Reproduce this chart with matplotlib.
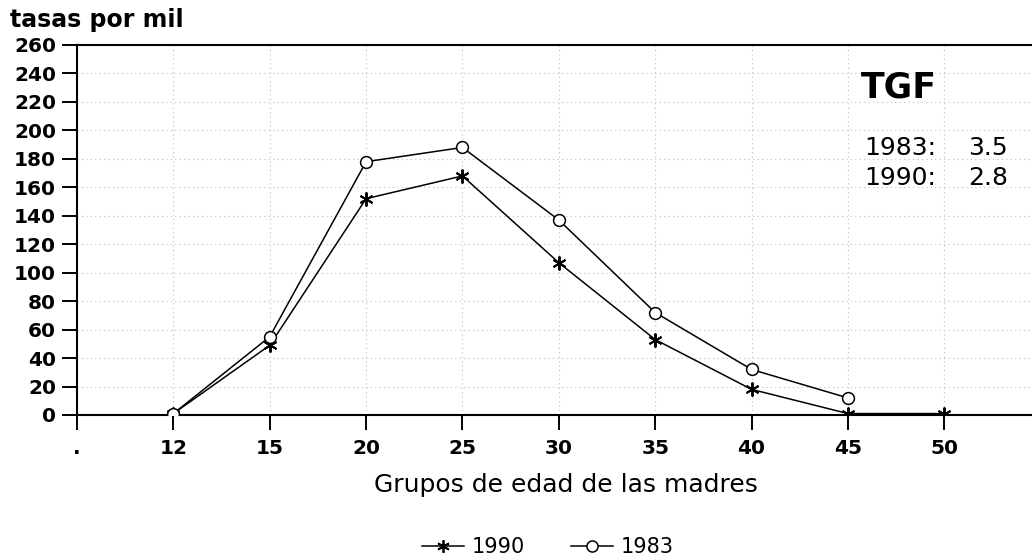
import matplotlib
matplotlib.use("Agg")
import matplotlib.pyplot as plt
from matplotlib.lines import Line2D

tick_labels = ['.', '12', '15', '20', '25', '30', '35', '40', '45', '50']
ages_1990 = ['12', '15', '20', '25', '30', '35', '40', '45', '50']
vals_1990 = [1, 49, 152, 168, 107, 53, 18, 1, 1]
ages_1983 = ['12', '15', '20', '25', '30', '35', '40', '45']
vals_1983 = [1, 55, 178, 188, 137, 72, 32, 12]
yticks = list(range(0, 261, 20))
tgf_years = ['1983:', '1990:']
tgf_values = ['3.5', '2.8']

plt.rcParams['font.family'] = ['DejaVu Sans']

fig = plt.figure(figsize=(10.32, 5.6), dpi=100)
ax = fig.add_axes([77/1032, 1 - 415/560, 1 - 77/1032, (415 - 45)/560])

pos = {lab: i for i, lab in enumerate(tick_labels)}
x90 = [pos[a] for a in ages_1990]
x83 = [pos[a] for a in ages_1983]

asterisk = (6, 2, 0)
ax.plot(x90, vals_1990, color='black', lw=1.1, marker=asterisk, ms=10,
        mew=1.4, label='1990', zorder=3)
ax.plot(x83, vals_1983, color='black', lw=1.1, marker='o', ms=8.5,
        mfc='white', mew=1.1, label='1983', zorder=3)

ax.set_xlim(0, 9.91)
ax.set_ylim(0, 260)
ax.set_yticks(yticks)
ax.set_yticklabels([str(v) for v in yticks], fontsize=14.5, fontweight='bold')
ax.set_xticks(range(len(tick_labels)))
ax.set_xticklabels(tick_labels, fontsize=14.5, fontweight='bold')
ax.tick_params(axis='both', direction='out', length=11, width=1.4, color='black')
ax.tick_params(axis='x', pad=6)
ax.tick_params(axis='y', pad=4)

for s in ['left', 'bottom', 'top']:
    ax.spines[s].set_linewidth(1.5)
ax.spines['right'].set_visible(False)

ax.grid(True, color='#bdbdbd', linestyle=(0, (1, 3)), linewidth=0.8)
ax.set_axisbelow(True)

ax.set_xlabel('Grupos de edad de las madres', fontsize=18)
ax.xaxis.set_label_coords((566 - 77) / 955, -(485 - 415) / 370, transform=ax.transAxes)
ax.xaxis.label.set_va('center')
fig.text(10/1032, 1 - 20/560, 'tasas por mil', fontsize=17, fontweight='bold',
         va='center', ha='left')

fig.text(861/1032, 1 - 87/560, 'TGF', fontsize=25, fontweight='bold', va='center')
for i, (yr, v) in enumerate(zip(tgf_years, tgf_values)):
    yc = 1 - (148 + 30 * i)/560
    fig.text(864/1032, yc, yr, fontsize=18, va='center')
    fig.text(1008/1032, yc, v, fontsize=18, va='center', ha='right')

handles = [Line2D([], [], color='black', lw=1.1, marker=asterisk, ms=9, mew=1.3),
           Line2D([], [], color='black', lw=1.1, marker='o', ms=8, mfc='white', mew=1.1)]
fig.legend(handles, ['1990', '1983'], loc='center', bbox_to_anchor=(548/1032, 1 - 547/560),
           ncol=2, frameon=False, fontsize=15, handlelength=2.0, columnspacing=2.2,
           handletextpad=0.4)

fig.savefig('out.png', dpi=100)
